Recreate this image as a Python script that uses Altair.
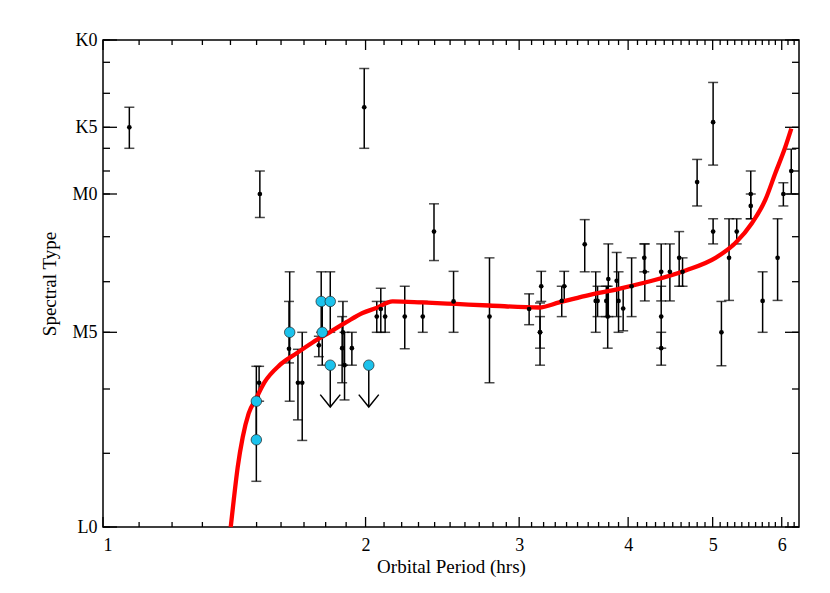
import altair as alt
import pandas as pd

# ---------------- data (spectral type code: tick index, K0=0 ... L0=12) ----------------
blk_P = [1.072, 1.513, 1.51, 1.634, 1.673, 1.692, 1.768, 1.880, 1.884, 1.892, 1.929, 1.993,
         2.06, 2.082, 2.106, 2.218, 2.326, 2.396, 2.523, 2.774, 3.08, 3.18, 3.17, 3.17,
         3.357, 3.379, 3.567, 3.672, 3.69, 3.796, 3.776, 3.79, 3.881, 3.90, 3.948, 4.037,
         4.174, 4.18, 4.365, 4.365, 4.365, 4.466, 4.577, 4.618, 4.799, 5.006, 5.006, 5.117,
         5.221, 5.328, 5.529, 5.529, 5.705, 5.935, 6.026, 6.153]
blk_s = [3.0, 6.0, 9.89, 9.29, 9.89, 9.89, 9.23, 9.28, 9.0, 9.58, 9.28, 2.41,
         8.69, 8.54, 8.69, 8.69, 8.69, 6.88, 8.39, 8.69, 8.54, 8.09, 9.0, 9.0,
         8.38, 8.09, 7.17, 8.38, 8.38, 7.94, 8.38, 8.69, 7.98, 8.38, 8.53, 8.09,
         7.47, 7.78, 7.78, 8.69, 9.28, 7.78, 7.47, 7.78, 5.48, 2.85, 6.88, 9.0,
         7.47, 6.88, 6.0, 6.28, 8.38, 7.47, 6.0, 5.0]
blk_lo = [2.41, 5.0, 9.60, 8.39, 9.30, 9.0, 9.07, 8.69, 8.39, 9.0, 9.0, 1.2,
          8.39, 8.13, 8.39, 8.09, 8.39, 6.23, 7.77, 7.47, 8.24, 7.77, 8.69, 8.42,
          8.09, 7.77, 6.6, 7.78, 8.09, 7.16, 8.09, 8.09, 7.35, 7.78, 8.13, 7.47,
          7.16, 7.16, 7.16, 8.09, 9.0, 7.16, 6.88, 7.47, 4.49, 1.65, 6.58, 8.39,
          6.58, 6.58, 5.0, 6.0, 7.78, 6.58, 5.51, 4.04]
blk_hi = [4.0, 6.55, 10.19, 9.54, 10.48, 10.80, 9.43, 9.89, 9.58, 10.17, 9.58, 4.0,
          9.0, 9.0, 9.0, 9.29, 9.0, 7.53, 9.0, 9.89, 8.85, 8.39, 9.28, 9.58,
          8.69, 8.38, 7.78, 9.0, 8.69, 8.69, 8.69, 9.28, 8.69, 9.0, 8.97, 8.69,
          7.78, 8.38, 8.38, 9.28, 9.58, 8.38, 8.09, 8.09, 6.28, 4.74, 7.16, 9.59,
          8.37, 7.16, 6.58, 6.58, 9.0, 8.37, 6.28, 6.0]

blu_P = [1.499, 1.499, 1.637, 1.779, 1.822, 1.784]
blu_s = [10.19, 10.79, 9.0, 8.39, 8.39, 9.0]
blu_lo = [9.6, 10.2, 7.78, 7.78, 7.78, 8.42]
blu_hi = [10.79, 11.38, 10.19, 9.0, 9.0, 9.58]

lim_P = [1.822, 2.017]
lim_s = [9.58, 9.58]
lim_tip = [10.28, 10.28]

red_P = [1.401, 1.412, 1.427, 1.446, 1.469, 1.499, 1.532, 1.594, 1.667, 1.739, 1.819,
         1.901, 1.984, 2.058, 2.148, 2.323, 2.539, 2.772, 3.162, 3.334, 3.576, 3.904, 4.259,
         4.655, 5.038, 5.309, 5.548, 5.745, 5.899, 6.057, 6.154]
red_s = [12.0, 11.64, 11.19, 10.75, 10.38, 10.14, 9.88, 9.58, 9.37, 9.18, 9.0,
         8.8, 8.62, 8.52, 8.39, 8.41, 8.44, 8.47, 8.51, 8.41, 8.28, 8.14, 7.98,
         7.75, 7.47, 7.14, 6.68, 6.14, 5.10, 3.94, 3.06]

y_tick_codes = list(range(13))
y_major_codes = [0, 3, 6, 9, 12]
y_major_labels = ["K0", "K5", "M0", "M5", "L0"]
x_major = [1, 2, 3, 4, 5, 6]
x_minor = [round(i / 10, 1) for i in range(11, 63) if i % 10 != 0]

# ---------------- layout ----------------
W, H = 696, 487
Y_RANGE = [0, 22.3, 53.3, 87.3, 108.3, 131, 154, 196.7, 241.7, 292.3, 349, 413.3, 487]
FONT = "Liberation Serif"

xs = alt.Scale(type="log", domain=[1, 6.28], nice=False)
ys = alt.Scale(domain=y_tick_codes, range=Y_RANGE, zero=False, nice=False)

ylab = " : ".join(f"datum.value == {c} ? '{l}'" for c, l in zip(y_major_codes, y_major_labels)) + " : ''"

xaxis = alt.Axis(values=x_major, format="d", labelPadding=9, titlePadding=3,
                 domain=False, ticks=False, grid=False)
yaxis = alt.Axis(values=y_major_codes, labelExpr=ylab, labelPadding=6, titlePadding=12,
                 domain=False, ticks=False, grid=False)


def X(f):
    return alt.X(f, type="quantitative", scale=xs, axis=xaxis, title="Orbital Period (hrs)")


def Y(f):
    return alt.Y(f, type="quantitative", scale=ys, axis=yaxis, title="Spectral Type")


pts = pd.DataFrame({"P": blk_P + blu_P, "s": blk_s + blu_s,
                    "lo": blk_lo + blu_lo, "hi": blk_hi + blu_hi})
caps = pd.DataFrame({"P": list(pts["P"]) * 2, "c": list(pts["lo"]) + list(pts["hi"])})
blk = pd.DataFrame({"P": blk_P, "s": blk_s})
blu = pd.DataFrame({"P": blu_P + lim_P, "s": blu_s + lim_s})
lim = pd.DataFrame({"P": lim_P, "s": lim_s, "tip": lim_tip})
red = pd.DataFrame({"P": red_P, "s": red_s, "i": list(range(len(red_P)))})
ytk = pd.DataFrame({"s": y_tick_codes})
ytk_major = pd.DataFrame({"s": y_major_codes})
xtk = pd.DataFrame({"P": x_minor})
xtk_major = pd.DataFrame({"P": x_major})

bars = alt.Chart(pts).mark_rule(color="black", strokeWidth=1.5).encode(
    x=X("P"), y=Y("lo"), y2="hi")
capm = alt.Chart(caps).mark_tick(color="black", orient="horizontal", size=10, thickness=1.5).encode(
    x=X("P"), y=Y("c"))
curve = alt.Chart(red).mark_line(color="#ff0000", strokeWidth=4.3, interpolate="monotone").encode(
    x=X("P"), y=Y("s"), order="i:Q")
dots = alt.Chart(blk).mark_circle(color="black", size=22, opacity=1).encode(x=X("P"), y=Y("s"))
arrl = alt.Chart(lim).mark_rule(color="black", strokeWidth=1.5).encode(x=X("P"), y=Y("s"), y2="tip")
arrh = alt.Chart(lim).mark_point(shape="M-1,-1.24L0,0L1,-1.24", size=400, filled=False,
                                 color="black", strokeWidth=1.5, opacity=1).encode(x=X("P"), y=Y("tip"))
bdots = alt.Chart(blu).mark_circle(color="#1cc2ec", size=110, opacity=1, stroke="#222222",
                                   strokeWidth=0.7).encode(x=X("P"), y=Y("s"))

tk = dict(color="black", strokeWidth=1.3)
lmin = alt.Chart(ytk).mark_rule(**tk).encode(y=Y("s"), x=alt.value(0), x2=alt.value(7))
lmaj = alt.Chart(ytk_major).mark_rule(**tk).encode(y=Y("s"), x=alt.value(0), x2=alt.value(14))
rmin = alt.Chart(ytk).mark_rule(**tk).encode(y=Y("s"), x=alt.value(W), x2=alt.value(W - 7))
rmaj = alt.Chart(ytk_major).mark_rule(**tk).encode(y=Y("s"), x=alt.value(W), x2=alt.value(W - 14))
bmin = alt.Chart(xtk).mark_rule(**tk).encode(x=X("P"), y=alt.value(H), y2=alt.value(H - 5))
bmaj = alt.Chart(xtk_major).mark_rule(**tk).encode(x=X("P"), y=alt.value(H), y2=alt.value(H - 10))
tmin = alt.Chart(xtk).mark_rule(**tk).encode(x=X("P"), y=alt.value(0), y2=alt.value(5))
tmaj = alt.Chart(xtk_major).mark_rule(**tk).encode(x=X("P"), y=alt.value(0), y2=alt.value(10))

chart = alt.layer(
    lmin, lmaj, rmin, rmaj, bmin, bmaj, tmin, tmaj,
    bars, capm, curve, dots, arrl, arrh, bdots
).properties(
    width=W, height=H,
    autosize=alt.AutoSizeParams(type="none"),
    padding={"left": 95, "top": 32, "right": 20, "bottom": 60},
    background="white",
).configure_view(
    stroke="black", strokeWidth=1.5
).configure_axis(
    labelFont=FONT, titleFont=FONT, labelFontSize=18, titleFontSize=19,
    titleFontWeight="normal", labelColor="black", titleColor="black",
)

chart.save("out.html", embed_options={"renderer": "svg", "actions": False})
